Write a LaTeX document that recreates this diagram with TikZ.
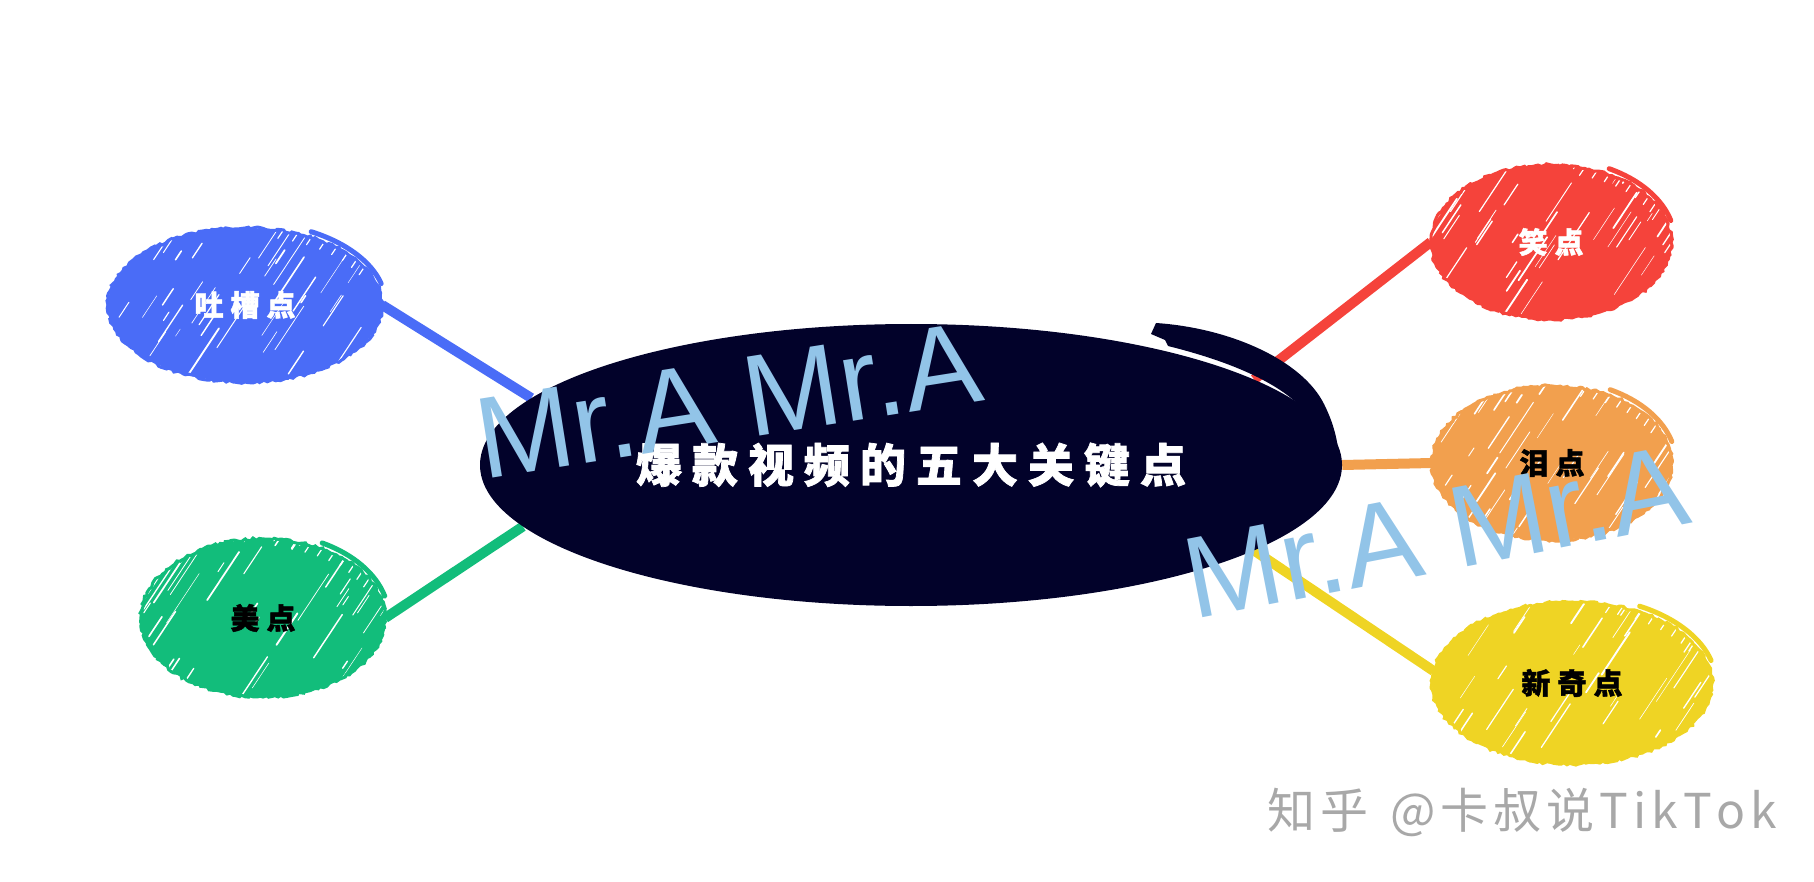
\documentclass[tikz,border=0pt]{standalone}
\usepackage{fontspec}
\setmainfont{Liberation Sans}
\newfontfamily\cjk{Noto Sans CJK SC}[BoldFeatures={FakeBold=1.6}]
\usetikzlibrary{shapes.geometric,decorations.pathmorphing,calc,backgrounds}
\definecolor{cblue}{HTML}{4A6CF7}
\definecolor{cgreen}{HTML}{12BD7B}
\definecolor{cred}{HTML}{F5433B}
\definecolor{corange}{HTML}{F2A04E}
\definecolor{cyellow}{HTML}{EFD424}
\definecolor{cnavy}{HTML}{02022A}
\definecolor{wmblue}{HTML}{92C4E8}
\definecolor{ftgray}{HTML}{A8A8A8}
\newcommand\tk{\kern10pt}
\newcommand\sk{\kern7pt}
\newcommand\fk{\kern5pt}
\tikzset{
  bubble/.style={ellipse, inner sep=0pt, font=\cjk\bfseries\fontsize{29}{31}\selectfont},
  hatchy/.style n args={3}{path picture={%
    \pgfmathsetseed{#1}%
    \foreach \k in {1,...,42}{%
      \pgfmathsetmacro\hu{(rnd*2-1)*#2}%
      \pgfmathsetmacro\hv{(rnd*2-1)*#3}%
      \pgfmathsetmacro\hl{8+rnd*55}%
      \pgfmathsetmacro\hw{0.4+rnd*1.5}%
      \draw[white, line width=\hw pt, line cap=round]
        ($(path picture bounding box.center)+(\hu,\hv)$) -- ++({\hl*0.55},{-\hl*0.83});
    }%
    \foreach \a in {-75,-68,...,-20}{%
      \draw[white, line width=1.2pt, line cap=round]
        ($(path picture bounding box.center)+(\a:{#2-10} and {#3-8})$) -- ++(8,-12);
    }}},
  fuzz/.style={line width=3pt, decorate, decoration={random steps, segment length=3pt, amplitude=1.3pt}},
  hook/.style={line width=5pt, line cap=round},
  conn/.style={line width=10pt},
  wmark/.style={text=wmblue, font=\fontsize{116}{120}\selectfont, inner sep=0pt},
}
\begin{document}
\begin{tikzpicture}[x=1pt,y=-1pt]
\useasboundingbox (0,0) rectangle (1814,882);

% central node
\node[ellipse, fill=cnavy, minimum width=862pt, minimum height=282pt, inner sep=0pt,
      text=white, font=\cjk\bfseries\fontsize{46}{48}\selectfont] (c) at (911,465)
  {爆\tk 款\tk 视\tk 频\tk 的\tk 五\tk 大\tk 关\tk 键\tk 点};
\fill[cnavy] (1151,334) -- (1156,323) .. controls (1230,328) and (1302,360) .. (1324,404)
  .. controls (1336,428) and (1340,450) .. (1339,472) -- (1326,472)
  .. controls (1326,450) and (1320,432) .. (1312,420)
  .. controls (1290,388) and (1240,364) .. (1168,346) -- (1165,340) -- cycle;

% bubbles
\node[bubble, fill=cblue, minimum width=274pt, minimum height=154pt, hatchy={11}{137}{77}, text=white] (b1) at (245,305) {吐\sk 槽\sk 点};
\node[bubble, fill=cgreen, minimum width=244pt, minimum height=158pt, hatchy={23}{122}{79}, text=black] (b2) at (263,618) {美\sk 点};
\node[bubble, fill=cred, minimum width=240pt, minimum height=154pt, hatchy={37}{120}{77}, text=white] (b3) at (1551,242) {笑\sk 点};
\node[bubble, fill=corange, minimum width=240pt, minimum height=154pt, hatchy={41}{120}{77}, text=black] (b4) at (1552,463) {泪\sk 点};
\node[bubble, fill=cyellow, minimum width=280pt, minimum height=162pt, hatchy={53}{140}{81}, text=black] (b5) at (1572,683) {新\sk 奇\sk 点};

\draw[fuzz, cblue] (b1.center) ellipse [x radius=137, y radius=77];
\draw[fuzz, cgreen] (b2.center) ellipse [x radius=122, y radius=79];
\draw[fuzz, cred] (b3.center) ellipse [x radius=120, y radius=77];
\draw[fuzz, corange] (b4.center) ellipse [x radius=120, y radius=77];
\draw[fuzz, cyellow] (b5.center) ellipse [x radius=140, y radius=81];

\draw[hook, cblue] ([shift={(-62:141 and 83)}]b1.center) arc[start angle=-62, end angle=-15, x radius=141, y radius=83];
\draw[hook, cgreen] ([shift={(-62:126 and 85)}]b2.center) arc[start angle=-62, end angle=-15, x radius=126, y radius=85];
\draw[hook, cred] ([shift={(-62:124 and 83)}]b3.center) arc[start angle=-62, end angle=-15, x radius=124, y radius=83];
\draw[hook, corange] ([shift={(-62:124 and 83)}]b4.center) arc[start angle=-62, end angle=-15, x radius=124, y radius=83];
\draw[hook, cyellow] ([shift={(-62:144 and 87)}]b5.center) arc[start angle=-62, end angle=-15, x radius=144, y radius=87];

% connectors
\begin{scope}[on background layer]
\draw[conn, cblue] (b1.east) -- (c.170);
\draw[conn, cgreen] (b2.east) -- (c.189);
\draw[conn, cred] (b3.west) -- (c.14);
\draw[conn, corange] (b4.west) -- (c.0);
\draw[conn, cyellow] (b5.175) -- (c.-14);
\end{scope}

% watermarks
\node[wmark, rotate=9, anchor=base west] (w1) at (483,480) {Mr.A Mr.A};
\node[wmark, rotate=11, anchor=base west] (w2) at (1193,620) {Mr.A Mr.A};

% footer
\node[anchor=west, inner sep=0pt, text=ftgray, font=\cjk\fontsize{48}{50}\selectfont] (ft) at (1267,812)
  {知\fk 乎\kern22pt @\fk 卡\fk 叔\fk 说\fk T\fk i\fk k\fk T\fk o\fk k};
\end{tikzpicture}
\end{document}
